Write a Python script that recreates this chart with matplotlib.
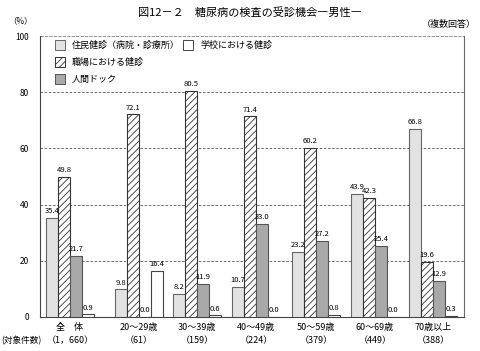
import matplotlib.pyplot as plt
from matplotlib.patches import Rectangle
import numpy as np

plt.rcParams['font.family'] = ['Noto Sans CJK JP', 'DejaVu Sans']
plt.rcParams['hatch.linewidth'] = 0.6

# data
groups = ["全　体", "20～29歳", "30～39歳", "40～49歳", "50～59歳", "60～69歳", "70歳以上"]
counts = ["（1，660）", "（61）", "（159）", "（224）", "（379）", "（449）", "（388）"]
series = ["住民健診（病院・診療所）", "職場における健診", "人間ドック", "学校における健診"]
jumin = [35.4, 9.8, 8.2, 10.7, 23.2, 43.9, 66.8]
shokuba = [49.8, 72.1, 80.5, 71.4, 60.2, 42.3, 19.6]
dock = [21.7, 0.0, 11.9, 33.0, 27.2, 25.4, 12.9]
gakko = [0.9, 16.4, 0.6, 0.0, 0.8, 0.0, 0.3]

# layout (pixel-like x units)
group_start = np.array([6, 75, 133, 192, 252, 311, 369])
bw = 12
styles = [
    dict(facecolor="#e2e2e2", edgecolor="#666666", hatch=None),
    dict(facecolor="white", edgecolor="#333333", hatch="/////"),
    dict(facecolor="#a9a9a9", edgecolor="#555555", hatch=None),
    dict(facecolor="white", edgecolor="#444444", hatch=None),
]

fig = plt.figure(figsize=(4.8, 3.51), dpi=100)
ax = fig.add_axes([40/480, 1-317/351, 424/480, (317-36)/351])

for k, vals in enumerate([jumin, shokuba, dock, gakko]):
    xs = group_start + k*bw + bw/2
    ax.bar(xs, vals, width=bw, linewidth=0.8, zorder=3, **styles[k])
    for x, v in zip(xs, vals):
        ax.text(x, v + 1.0, f"{v:.1f}", ha="center", va="bottom", fontsize=5.5, zorder=4)

ax.set_xlim(0, 424)
ax.set_ylim(0, 100)
ax.set_yticks([0, 20, 40, 60, 80, 100])
ax.set_yticklabels(["0", "20", "40", "60", "80", "100"], fontsize=6)
ax.tick_params(axis="y", length=0, pad=8)
ax.set_xticks(group_start + 2*bw)
ax.set_xticklabels([f"{g}\n{c}" for g, c in zip(groups, counts)], fontsize=6.5, linespacing=1.6)
ax.tick_params(axis="x", length=0, pad=4)
for y in [20, 40, 60, 80]:
    ax.axhline(y, color="#555555", linestyle=(0, (3, 2)), linewidth=0.6, zorder=1)
ax.axhline(100, color="#999999", linestyle=(0, (3, 1)), linewidth=0.8, zorder=1)
ax.spines["top"].set_visible(False)
ax.spines["right"].set_color("#666666")
ax.spines["left"].set_color("#444444")
ax.spines["bottom"].set_color("#444444")

# legend drawn by hand
leg_pos = [(55, 45), (55, 62), (55, 79), (183, 45)]
for (px, py), name, st in zip(leg_pos, series, styles):
    x0 = (px - 40) / 424
    y0 = (317 - py) / 281
    ax.add_patch(Rectangle((x0, y0 - 5/281), 10/424, 10/281, transform=ax.transAxes,
                           linewidth=0.7, zorder=5, **st))
    ax.text(x0 + 17/424, y0, name, transform=ax.transAxes, fontsize=6.5,
            va="center", ha="left", zorder=5)

fig.text(250/480, 1-12/351, "図12－２　糖尿病の検査の受診機会―男性―", ha="center", va="center", fontsize=8)
fig.text(20/480, 1-21/351, "（%）", ha="center", va="center", fontsize=6)
fig.text(476/480, 1-24/351, "（複数回答）", ha="right", va="center", fontsize=6.5)
fig.text(1/480, 1-341/351, "(対象件数)", ha="left", va="center", fontsize=6.2)

fig.savefig("out.png", dpi=100)
